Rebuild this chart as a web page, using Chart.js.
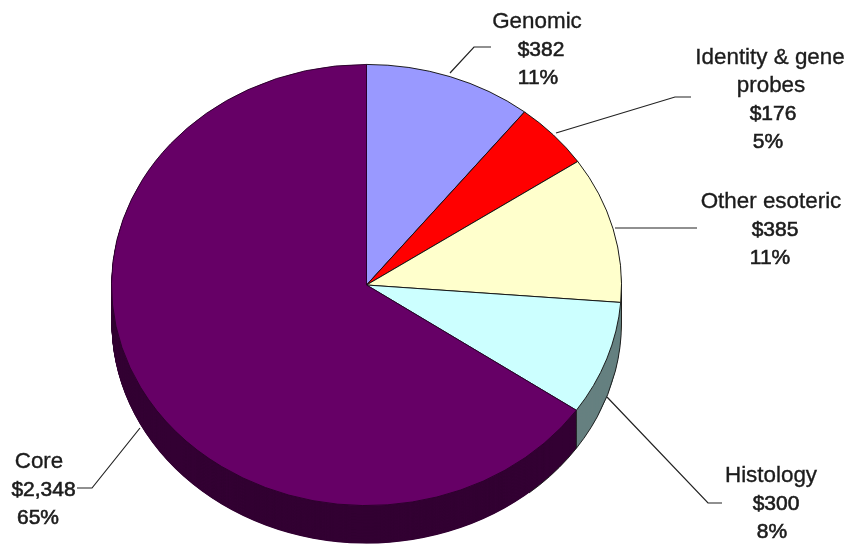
<!DOCTYPE html>
<html>
<head>
<meta charset="utf-8">
<title>Revenue by product line</title>
<script src="https://cdn.jsdelivr.net/npm/chart.js@4/dist/chart.umd.min.js"></script>
<style>
  html, body { margin: 0; padding: 0; background: #fff; }
  canvas { display: block; }
</style>
</head>
<body>
<canvas id="pie" width="849" height="546"></canvas>
<script>
// Product lines, clockwise from twelve o'clock
const categories = ['Genomic', 'Identity & gene probes', 'Other esoteric', 'Histology', 'Core'];
const revenue = [382, 176, 385, 300, 2348];
const faceColors = ['#9999FF', '#FF0000', '#FFFFCC', '#CCFFFF', '#660066'];
const sideColors = ['#4D4D80', '#800000', '#808066', '#668080', '#330033'];
const edgeColors = ['#111', '#111', '#111', '#111', '#2a002a'];

// Wrapped label lines and the horizontal centre of every line
const labelLines = [
  ['Genomic'], ['Identity & gene', 'probes'], ['Other esoteric'], ['Histology'], ['Core']
];
const labelCentres = [
  [537, 541, 538], [770, 771, 773, 768], [771, 775, 770], [771, 776, 772], [39, 43.5, 38]
];
const labelFirstBaselines = [28, 64, 208, 482, 468];
const leaderLines = [
  [[450, 73], [474, 47], [491, 47]],
  [[556, 133], [675, 97], [691, 97]],
  [[615, 228], [697, 228]],
  [[607, 397], [708, 503], [722, 503]],
  [[140, 428], [92, 488], [77, 488]]
];

// The round pie is squashed into a tilted disc resting on a shallow drum
const tilt = 221 / 255.5;
const discCentreY = 285;
const drumDepth = 38;
const lineStep = 27.9;

function tiltContext(ctx, chart) {
  const arc = chart.getDatasetMeta(0).data[0];
  ctx.translate(arc.x, discCentreY);
  ctx.scale(1, tilt);
  ctx.translate(-arc.x, -arc.y);
}

const tiltedPie = {
  id: 'tiltedPie',
  beforeDatasetsDraw(chart) {
    const ctx = chart.ctx;
    const arcs = chart.getDatasetMeta(0).data;
    ctx.save();
    tiltContext(ctx, chart);
    const offset = drumDepth / tilt;
    // Stacked copies of each slice form the drum wall
    for (let d = offset; d > 0; d -= 0.5) {
      arcs.forEach((arc, i) => {
        ctx.beginPath();
        ctx.moveTo(arc.x, arc.y + d);
        ctx.arc(arc.x, arc.y + d, arc.outerRadius, arc.startAngle, arc.endAngle);
        ctx.closePath();
        ctx.fillStyle = sideColors[i];
        ctx.fill();
      });
    }
    // Outline and seams of the wall for the lower right of the disc
    const r = arcs[0].outerRadius;
    const cx = arcs[0].x;
    const cy = arcs[0].y;
    ctx.strokeStyle = '#1a1a1a';
    ctx.lineWidth = 1;
    ctx.beginPath();
    ctx.arc(cx, cy + offset, r, 0, Math.PI * 0.28);
    ctx.stroke();
    ctx.beginPath();
    ctx.moveTo(cx + r, cy);
    ctx.lineTo(cx + r, cy + offset);
    ctx.stroke();
    const seam = arcs[3].endAngle;
    ctx.beginPath();
    ctx.moveTo(cx + r * Math.cos(seam), cy + r * Math.sin(seam));
    ctx.lineTo(cx + r * Math.cos(seam), cy + r * Math.sin(seam) + offset);
    ctx.stroke();
  },
  afterDatasetsDraw(chart) {
    chart.ctx.restore();
  },
  afterDraw(chart) {
    const ctx = chart.ctx;
    const total = revenue.reduce((a, b) => a + b, 0);
    ctx.save();
    ctx.strokeStyle = '#222';
    ctx.lineWidth = 1.2;
    leaderLines.forEach(points => {
      ctx.beginPath();
      points.forEach(([x, y], j) => (j ? ctx.lineTo(x, y) : ctx.moveTo(x, y)));
      ctx.stroke();
    });
    ctx.fillStyle = '#1c1c1c';
    ctx.strokeStyle = '#1c1c1c';
    ctx.textAlign = 'center';
    ctx.textBaseline = 'alphabetic';
    categories.forEach((_, i) => {
      const names = labelLines[i];
      const lines = names.concat(
        '$' + revenue[i].toLocaleString('en-US'),
        Math.round(revenue[i] / total * 100) + '%'
      );
      lines.forEach((text, j) => {
        const x = labelCentres[i][j];
        const y = labelFirstBaselines[i] + j * lineStep;
        // Amounts and shares are set a touch smaller and heavier than the names
        const isFigure = j >= names.length;
        ctx.font = (isFigure ? '21px' : '22.4px') + ' "Liberation Sans", Arial, sans-serif';
        ctx.lineWidth = isFigure ? 0.6 : 0.35;
        ctx.fillText(text, x, y);
        ctx.strokeText(text, x, y);
      });
    });
    ctx.restore();
  }
};

new Chart(document.getElementById('pie'), {
  type: 'pie',
  data: {
    labels: categories,
    datasets: [{
      data: revenue,
      backgroundColor: faceColors,
      borderColor: edgeColors,
      borderWidth: 1,
      clip: false
    }]
  },
  options: {
    responsive: false,
    animation: false,
    layout: { padding: { left: 111, right: 227, top: 17, bottom: 18 } },
    plugins: { legend: { display: false }, tooltip: { enabled: false } }
  },
  plugins: [tiltedPie]
});
</script>
</body>
</html>
